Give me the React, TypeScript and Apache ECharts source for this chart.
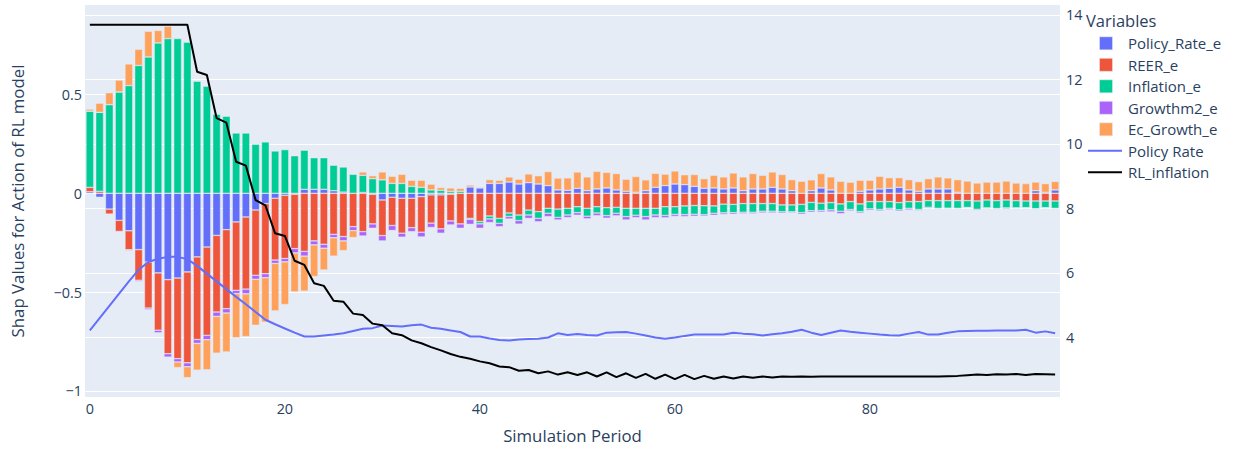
import React, { useEffect, useRef } from "react";
import * as echarts from "echarts";

const periods: string[] = Array.from({ length: 100 }, (_, i) => String(i));

const policyRateE: number[] = [
  0.008, -0.02, -0.08, -0.137, -0.19, -0.285, -0.348, -0.403, -0.437, -0.429,
  -0.398, -0.322, -0.272, -0.213, -0.184, -0.145, -0.12, -0.085, -0.052, -0.025,
  -0.01, -0.005, 0.02, 0.02, 0.02, 0.013, 0.006, 0.0, 0.004, -0.005,
  -0.034, -0.02, -0.025, -0.025, -0.017, -0.008, -0.008, -0.005, 0.0, 0.032,
  0.027, 0.05, 0.05, 0.057, 0.047, 0.054, 0.047, 0.039, 0.017, 0.015,
  0.025, 0.013, 0.022, 0.027, 0.017, 0.01, 0.005, 0.013, 0.03, 0.039,
  0.047, 0.044, 0.035, 0.025, 0.027, 0.022, 0.027, 0.013, 0.022, 0.022,
  0.03, 0.022, 0.013, 0.0, 0.013, 0.027, 0.017, 0.0, 0.0, 0.01,
  0.017, 0.022, 0.025, 0.03, 0.017, 0.01, 0.022, 0.022, 0.022, 0.005,
  0.0, 0.0, 0.0, 0.0, 0.0, 0.0, 0.0, 0.013, 0.005, 0.017,
];

const reerE: number[] = [
  0.022, 0.01, -0.025, -0.056, -0.096, -0.155, -0.233, -0.29, -0.375, -0.408,
  -0.46, -0.418, -0.447, -0.388, -0.4, -0.346, -0.365, -0.33, -0.355, -0.313,
  -0.32, -0.275, -0.294, -0.241, -0.258, -0.208, -0.219, -0.169, -0.194, -0.15,
  -0.18, -0.143, -0.177, -0.149, -0.18, -0.143, -0.172, -0.135, -0.155, -0.127,
  -0.143, -0.115, -0.127, -0.1, -0.11, -0.085, -0.093, -0.076, -0.08, -0.076,
  -0.068, -0.076, -0.068, -0.073, -0.071, -0.076, -0.076, -0.076, -0.076, -0.068,
  -0.068, -0.064, -0.062, -0.063, -0.064, -0.055, -0.056, -0.052, -0.052, -0.052,
  -0.052, -0.059, -0.059, -0.056, -0.046, -0.05, -0.047, -0.054, -0.042, -0.054,
  -0.042, -0.042, -0.042, -0.047, -0.042, -0.042, -0.037, -0.037, -0.037, -0.037,
  -0.037, -0.039, -0.034, -0.037, -0.034, -0.037, -0.039, -0.039, -0.039, -0.039,
];

const inflationE: number[] = [
  0.386, 0.4, 0.449, 0.513, 0.545, 0.647, 0.69, 0.761, 0.783, 0.783,
  0.765, 0.567, 0.542, 0.4, 0.39, 0.305, 0.305, 0.248, 0.26, 0.214,
  0.221, 0.19, 0.198, 0.16, 0.16, 0.129, 0.127, 0.096, 0.087, 0.074,
  0.068, 0.05, 0.05, 0.035, 0.03, 0.017, 0.015, 0.01, 0.01, -0.005,
  -0.012, -0.015, -0.025, -0.017, -0.028, -0.025, -0.034, -0.025, -0.042, -0.034,
  -0.03, -0.04, -0.032, -0.04, -0.03, -0.042, -0.035, -0.042, -0.034, -0.044,
  -0.039, -0.044, -0.044, -0.046, -0.037, -0.044, -0.042, -0.044, -0.044, -0.039,
  -0.039, -0.035, -0.035, -0.042, -0.042, -0.037, -0.037, -0.037, -0.04, -0.039,
  -0.037, -0.04, -0.034, -0.037, -0.034, -0.04, -0.034, -0.039, -0.039, -0.039,
  -0.035, -0.042, -0.04, -0.04, -0.04, -0.037, -0.034, -0.039, -0.034, -0.037,
];

const growthm2E: number[] = [
  0, 0, 0, 0, -0.003, -0.006, -0.008, -0.013, -0.017, -0.017,
  -0.02, -0.02, -0.022, -0.022, -0.022, -0.017, -0.024, -0.02, -0.02, -0.017,
  -0.017, -0.022, -0.024, -0.02, -0.02, -0.017, -0.022, -0.02, -0.022, -0.022,
  -0.027, -0.025, -0.02, -0.02, -0.024, -0.022, -0.022, -0.02, -0.022, -0.025,
  -0.022, -0.018, -0.017, -0.013, -0.018, -0.017, -0.017, -0.017, -0.013, -0.013,
  -0.013, -0.013, -0.013, -0.013, -0.013, -0.017, -0.012, -0.017, -0.013, -0.012,
  -0.01, -0.01, -0.01, -0.007, -0.01, -0.008, -0.008, -0.007, -0.007, -0.008,
  -0.008, -0.007, -0.005, -0.008, -0.008, -0.008, -0.01, -0.012, -0.007, -0.007,
  -0.007, -0.007, -0.007, -0.007, -0.008, -0.005, -0.005, -0.003, 0, -0.002,
  -0.002, -0.005, -0.003, -0.003, -0.005, -0.002, -0.002, -0.002, -0.002, -0.002,
];

const ecGrowthE: number[] = [
  0.01, 0.046, 0.06, 0.06, 0.11, 0.082, 0.13, 0.063, 0.062, -0.028,
  -0.055, -0.135, -0.152, -0.186, -0.197, -0.223, -0.216, -0.233, -0.225, -0.24,
  -0.216, -0.197, -0.177, -0.16, -0.11, -0.093, -0.049, -0.035, 0.017, 0.015,
  0.04, 0.036, 0.046, 0.031, 0.036, 0.029, 0.014, 0.017, 0.015, 0.01,
  0.005, 0.019, 0.016, 0.026, 0.024, 0.044, 0.042, 0.071, 0.06, 0.063,
  0.083, 0.07, 0.089, 0.079, 0.083, 0.061, 0.08, 0.055, 0.071, 0.058,
  0.066, 0.05, 0.06, 0.049, 0.064, 0.061, 0.076, 0.07, 0.078, 0.069,
  0.078, 0.073, 0.056, 0.061, 0.055, 0.073, 0.066, 0.061, 0.056, 0.056,
  0.049, 0.064, 0.054, 0.049, 0.052, 0.049, 0.052, 0.061, 0.056, 0.064,
  0.062, 0.052, 0.057, 0.057, 0.062, 0.052, 0.049, 0.044, 0.044, 0.043,
];

const policyRate: number[] = [
  4.22, 4.6, 4.98, 5.36, 5.74, 6.1, 6.34, 6.44, 6.5, 6.5,
  6.43, 6.22, 5.98, 5.74, 5.5, 5.26, 5.03, 4.79, 4.55, 4.41,
  4.28, 4.15, 4.03, 4.03, 4.06, 4.09, 4.13, 4.2, 4.27, 4.29,
  4.37, 4.36, 4.34, 4.38, 4.4, 4.3, 4.27, 4.22, 4.17, 4.03,
  4.03, 3.97, 3.92, 3.91, 3.94, 3.95, 3.96, 4.0, 4.13, 4.08,
  4.11, 4.08, 4.06, 4.15, 4.16, 4.17, 4.12, 4.06, 4.0, 3.96,
  4.0, 4.05, 4.09, 4.09, 4.09, 4.09, 4.15, 4.12, 4.1, 4.06,
  4.1, 4.13, 4.18, 4.24, 4.15, 4.08, 4.15, 4.22, 4.18, 4.15,
  4.12, 4.09, 4.07, 4.06, 4.12, 4.17, 4.09, 4.09, 4.15, 4.19,
  4.2, 4.21, 4.21, 4.22, 4.22, 4.22, 4.24, 4.15, 4.19, 4.13,
];

const rlInflation: number[] = [
  13.7, 13.7, 13.7, 13.7, 13.7, 13.7, 13.7, 13.7, 13.7, 13.7,
  13.7, 12.24, 12.14, 10.8, 10.66, 9.45, 9.33, 8.26, 8.1, 7.23,
  7.15, 6.38, 6.25, 5.68, 5.6, 5.14, 5.11, 4.74, 4.7, 4.43,
  4.38, 4.13, 4.07, 3.91, 3.82, 3.7, 3.6, 3.49, 3.4, 3.34,
  3.26, 3.2, 3.1, 3.08, 2.97, 2.99, 2.89, 2.95, 2.85, 2.92,
  2.84, 2.92, 2.79, 2.92, 2.77, 2.89, 2.75, 2.87, 2.72, 2.85,
  2.71, 2.84, 2.71, 2.81, 2.72, 2.79, 2.73, 2.79, 2.75, 2.79,
  2.76, 2.79, 2.78, 2.79, 2.78, 2.79, 2.79, 2.79, 2.79, 2.79,
  2.79, 2.79, 2.79, 2.79, 2.79, 2.79, 2.79, 2.79, 2.8, 2.81,
  2.83, 2.85, 2.84, 2.86, 2.85, 2.87, 2.84, 2.87, 2.86, 2.85,
];

const leftTicks: number[] = [-1, -0.5, 0, 0.5];
const rightTicks: number[] = [4, 6, 8, 10, 12, 14];

const barSeriesNames: string[] = ["Policy_Rate_e", "REER_e", "Inflation_e", "Growthm2_e", "Ec_Growth_e"];
const lineSeriesNames: string[] = ["Policy Rate", "RL_inflation"];

const FONT = '"Open Sans", verdana, arial, sans-serif';
const TXT = "#2a3f5f";
const TICK = 14.4;
const TITLE = 16.8;
const LEG = 15;
const barColors = ["#636efa", "#EF553B", "#00cc96", "#ab63fa", "#FFA15A"];
const lineColors = ["#636efa", "#000000"];

export default function App() {
  const ref = useRef<HTMLDivElement>(null);

  useEffect(() => {
    if (!ref.current) return;
    const chart = echarts.init(ref.current, undefined, { renderer: "svg" });
    const barData = [policyRateE, reerE, inflationE, growthm2E, ecGrowthE];

    const legendGraphics: any[] = [
      {
        type: "text",
        x: 1086,
        y: 20,
        style: { text: "Variables", font: `16.5px ${FONT}`, fill: TXT, textVerticalAlign: "middle" },
      },
    ];
    const rowY = (k: number) => 43.3 + k * 21.5;
    barSeriesNames.forEach((n, k) => {
      legendGraphics.push({
        type: "rect",
        shape: { x: 1099.5, y: rowY(k) - 6.5, width: 13, height: 13 },
        style: { fill: barColors[k], stroke: "#E5ECF6", lineWidth: 0.5 },
      });
      legendGraphics.push({
        type: "text",
        x: 1128,
        y: rowY(k),
        style: { text: n, font: `${LEG}px ${FONT}`, fill: TXT, textVerticalAlign: "middle" },
      });
    });
    lineSeriesNames.forEach((n, j) => {
      const k = j + barSeriesNames.length;
      legendGraphics.push({
        type: "line",
        shape: { x1: 1088, y1: rowY(k), x2: 1122, y2: rowY(k) },
        style: { stroke: lineColors[j], lineWidth: 2 },
      });
      legendGraphics.push({
        type: "text",
        x: 1128,
        y: rowY(k),
        style: { text: n, font: `${LEG}px ${FONT}`, fill: TXT, textVerticalAlign: "middle" },
      });
    });

    const fmt = (v: number) => (v < 0 ? "\u2212" + String(Math.abs(v)) : String(v));

    chart.setOption({
      animation: false,
      textStyle: { fontFamily: FONT },
      grid: {
        left: 85,
        right: 176,
        top: 5,
        bottom: 54,
        show: true,
        backgroundColor: "#E5ECF6",
        borderWidth: 0,
      },
      xAxis: {
        type: "category",
        data: periods,
        boundaryGap: true,
        name: "Simulation Period",
        nameLocation: "middle",
        nameGap: 30,
        nameTextStyle: { fontSize: TITLE, color: TXT, fontFamily: FONT },
        axisLine: { show: false },
        axisTick: { show: false },
        splitLine: { show: false },
        axisLabel: { interval: 19, color: TXT, fontSize: TICK, margin: 4, fontFamily: FONT },
      },
      yAxis: [
        {
          type: "value",
          min: -1.031,
          max: 0.953,
          position: "left",
          name: "Shap Values for Action of RL model",
          nameLocation: "middle",
          nameGap: 59,
          nameTextStyle: { fontSize: TITLE, color: TXT, fontFamily: FONT },
          axisLine: { show: false },
          axisTick: { show: false, customValues: leftTicks },
          axisLabel: { customValues: leftTicks, formatter: fmt, color: TXT, fontSize: TICK, margin: 3, fontFamily: FONT },
          splitLine: { show: true, lineStyle: { color: "#ffffff", width: 1 } },
        },
        {
          type: "value",
          min: 2.155,
          max: 14.31,
          position: "right",
          axisLine: { show: false },
          axisTick: { show: false, customValues: rightTicks },
          axisLabel: { customValues: rightTicks, color: TXT, fontSize: TICK, margin: 6, fontFamily: FONT },
          splitLine: { show: true, lineStyle: { color: "#ffffff", width: 1 } },
        },
      ],
      graphic: legendGraphics,
      series: [
        ...barSeriesNames.map((n, k) => ({
          name: n,
          type: "bar",
          stack: "shap",
          yAxisIndex: 0,
          data: barData[k],
          barCategoryGap: "20%",
          itemStyle: { color: barColors[k], borderColor: "#E5ECF6", borderWidth: 0.5 },
        })),
        {
          name: lineSeriesNames[0],
          type: "line",
          yAxisIndex: 1,
          data: policyRate,
          symbol: "none",
          lineStyle: { color: lineColors[0], width: 2 },
          itemStyle: { color: lineColors[0] },
        },
        {
          name: lineSeriesNames[1],
          type: "line",
          yAxisIndex: 1,
          data: rlInflation,
          symbol: "none",
          lineStyle: { color: lineColors[1], width: 2 },
          itemStyle: { color: lineColors[1] },
        },
      ],
    });
    return () => chart.dispose();
  }, []);

  return (
    <div
      ref={ref}
      style={{ position: "fixed", left: 0, top: 0, width: 1236, height: 451, background: "#ffffff" }}
    />
  );
}
